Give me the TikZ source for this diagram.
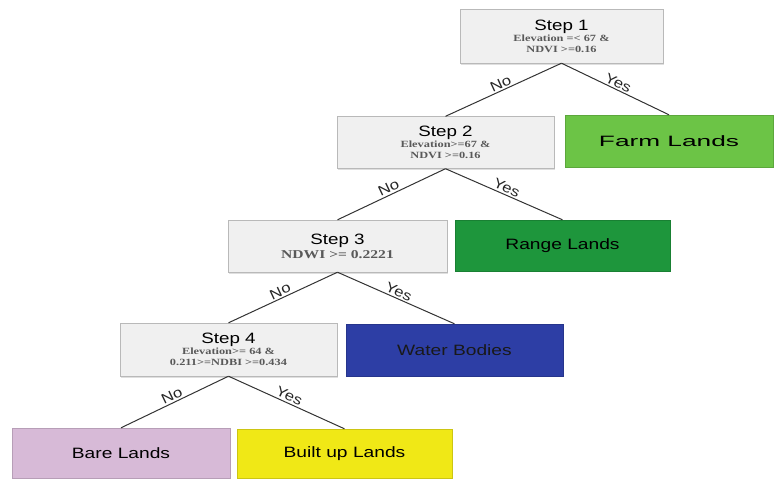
\documentclass[tikz,border=0pt]{standalone}
\usepackage{graphicx}
\usepackage{fontspec}
\setmainfont{Liberation Sans}
\newfontfamily\condfont{Liberation Serif}
\usetikzlibrary{shadows}

\definecolor{stepgray}{RGB}{240,240,240}
\definecolor{stepline}{RGB}{185,185,185}
\definecolor{farmgreen}{RGB}{108,196,70}
\definecolor{rangegreen}{RGB}{30,150,60}
\definecolor{waterblue}{RGB}{45,62,165}
\definecolor{barepink}{RGB}{215,186,215}
\definecolor{builtyellow}{RGB}{240,232,22}

\newcommand{\stepname}[1]{\scalebox{1.25}[1]{\fontsize{15}{16}\selectfont #1}}
\newcommand{\cond}[2][9.5]{\scalebox{1.3}[1]{\condfont\bfseries\fontsize{#1}{10}\selectfont\color{black!65}#2}}
\newcommand{\landname}[2][1.28]{\scalebox{#1}[1]{\fontsize{15}{16}\selectfont #2}}
\newcommand{\answer}[1]{\scalebox{1.2}[1]{\fontsize{14}{15}\selectfont #1}}

\begin{document}
\begin{tikzpicture}[x=1pt, y=-1pt,
	stepbox/.style={rectangle, draw=stepline, fill=stepgray, align=center, inner sep=0pt,
		minimum width=217pt, minimum height=52pt,
		drop shadow={shadow xshift=1pt, shadow yshift=-1.5pt, opacity=0.25}},
	landbox/.style={rectangle, draw=#1!85!black, fill=#1, inner sep=0pt,
		minimum width=216pt, minimum height=51pt},
	branch/.style={-, line width=1pt, black!80},
	yesno/.style={sloped, above, midway, inner sep=1.5pt, text=black!85}]
	\useasboundingbox (0,0) rectangle (774,480);

	\node[stepbox, minimum width=203pt, minimum height=54pt] (s1) at (561.5,36)
		{\stepname{Step 1}\\[-1pt] \cond{Elevation =< 67 \&}\\[-1pt] \cond{NDVI >=0.16}};
	\node[stepbox] (s2) at (445.5,142.5)
		{\stepname{Step 2}\\[-1pt] \cond{Elevation>=67 \&}\\[-1pt] \cond{NDVI >=0.16}};
	\node[stepbox, minimum width=219pt] (s3) at (337.5,246)
		{\stepname{Step 3}\\[2pt] \cond[12]{NDWI >= 0.2221}};
	\node[stepbox, minimum height=53pt] (s4) at (228.5,349.5)
		{\stepname{Step 4}\\[-1pt] \cond{Elevation>= 64 \&}\\[-1pt] \cond{0.211>=NDBI >=0.434}};

	\node[landbox=farmgreen, minimum width=208pt, minimum height=52pt] (farm) at (669,141)
		{\landname[1.75]{Farm Lands}};
	\node[landbox=rangegreen, minimum width=215pt] (range) at (562.5,245.5)
		{\landname{Range Lands}};
	\node[landbox=waterblue, minimum width=217pt, minimum height=52pt] (water) at (454.5,350)
		{\color{black!90}\landname{Water Bodies}};
	\node[landbox=barepink, minimum width=218pt, minimum height=50pt] (bare) at (121,453)
		{\landname{Bare Lands}};
	\node[landbox=builtyellow, minimum width=215pt, minimum height=49pt] (built) at (344.5,453.5)
		{\landname{Built up Lands}};

	\path [branch] (s2.north) edge node[yesno] {\answer{No}} (s1.south);
	\path [branch] (s1.south) edge node[yesno] {\answer{Yes}} (farm.north);
	\path [branch] (s3.north) edge node[yesno] {\answer{No}} (s2.south);
	\path [branch] (s2.south) edge node[yesno] {\answer{Yes}} (range.north);
	\path [branch] (s4.north) edge node[yesno] {\answer{No}} (s3.south);
	\path [branch] (s3.south) edge node[yesno] {\answer{Yes}} (water.north);
	\path [branch] (bare.north) edge node[yesno] {\answer{No}} (s4.south);
	\path [branch] (s4.south) edge node[yesno] {\answer{Yes}} (built.north);
\end{tikzpicture}
\end{document}
